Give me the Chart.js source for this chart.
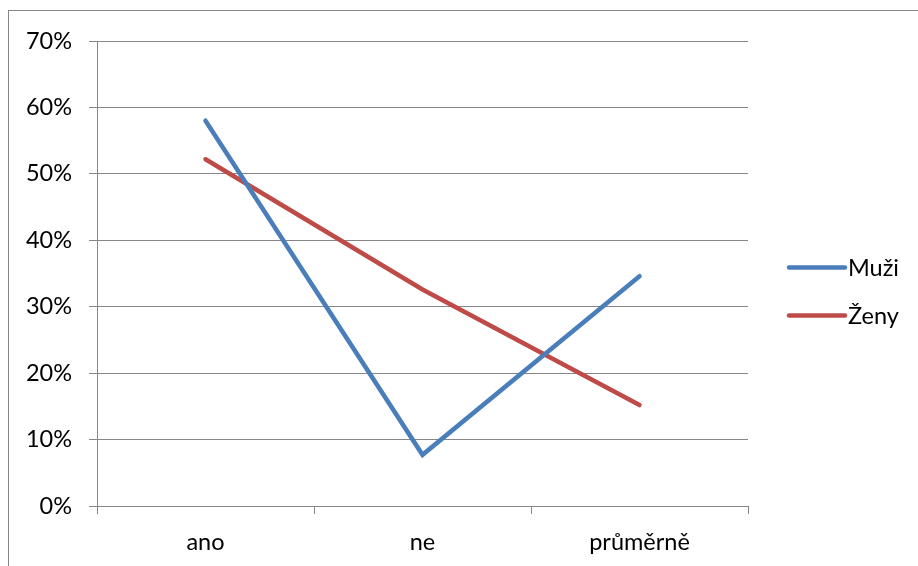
<!DOCTYPE html>
<html>
<head>
<meta charset="utf-8">
<script src="https://cdn.jsdelivr.net/npm/chart.js@4"></script>
<style>
  html, body { margin: 0; padding: 0; background: #fff; }
  #wrap { width: 918px; height: 566px; position: relative; }
</style>
</head>
<body>
<div id="wrap"><canvas id="c" width="918" height="566"></canvas></div>
<script>
// Survey answers by gender (share of respondents)
const categories = ['ano', 'ne', 'průměrně'];
const muzi = [0.580, 0.077, 0.346];
const zeny = [0.522, 0.326, 0.152];
const seriesNames = ['Muži', 'Ženy'];
const seriesColors = ['#4a7ebb', '#be4b48'];
const yTicks = [0, 0.1, 0.2, 0.3, 0.4, 0.5, 0.6, 0.7];

const FONT = 'Lato, "Open Sans", sans-serif';
const FONT_SIZE = 23.5;
const GRID = '#868686';

// Outer frame and the legend on the right
const framePlugin = {
  id: 'frameAndLegend',
  beforeDraw(chart) {
    const ctx = chart.ctx;
    ctx.save();
    ctx.strokeStyle = GRID;
    ctx.lineWidth = 1;
    ctx.strokeRect(8.5, 10.5, 1200, 1200);
    ctx.restore();
  },
  afterDraw(chart) {
    const ctx = chart.ctx;
    const area = chart.chartArea;
    ctx.save();
    const rows = chart.data.datasets.map(d => ({ label: d.label, color: d.borderColor }));
    const x0 = area.right + 41, x1 = area.right + 97;
    const yCenter = (area.top + area.bottom) / 2 + 18;
    const gap = 48;
    rows.forEach((r, i) => {
      const y = yCenter - gap / 2 + i * gap;
      ctx.strokeStyle = r.color;
      ctx.lineWidth = 4.5;
      ctx.lineCap = 'round';
      ctx.beginPath();
      ctx.moveTo(x0, y);
      ctx.lineTo(x1, y);
      ctx.stroke();
      ctx.fillStyle = '#000';
      ctx.font = FONT_SIZE + 'px ' + FONT;
      ctx.textBaseline = 'middle';
      ctx.textAlign = 'left';
      ctx.fillText(r.label, x1 + 3, y + 1);
    });
    ctx.restore();
  }
};

new Chart(document.getElementById('c'), {
  type: 'line',
  data: {
    labels: categories,
    datasets: [
      { label: seriesNames[0], data: muzi, borderColor: seriesColors[0], backgroundColor: seriesColors[0] },
      { label: seriesNames[1], data: zeny, borderColor: seriesColors[1], backgroundColor: seriesColors[1] }
    ]
  },
  options: {
    responsive: false,
    animation: false,
    devicePixelRatio: 1,
    layout: { padding: { left: 0, right: 170, top: 41, bottom: 0 } },
    elements: {
      line: { borderWidth: 4.5, tension: 0, borderCapStyle: 'round', borderJoinStyle: 'miter' },
      point: { radius: 0, hoverRadius: 0 }
    },
    plugins: { legend: { display: false }, tooltip: { enabled: false } },
    scales: {
      x: {
        offset: true,
        grid: { offset: true, drawOnChartArea: false, drawTicks: true, tickLength: 8, color: GRID, lineWidth: 1 },
        border: { display: true, color: GRID, width: 1 },
        ticks: { color: '#000', font: { family: FONT, size: FONT_SIZE }, padding: 14, maxRotation: 0 },
        afterFit(scale) { scale.height = 60; }
      },
      y: {
        min: 0,
        max: 0.7,
        afterBuildTicks(scale) { scale.ticks = yTicks.map(v => ({ value: v })); },
        grid: { color: GRID, lineWidth: 1, tickLength: 8, drawTicks: true },
        border: { display: true, color: GRID, width: 1 },
        ticks: {
          color: '#000',
          font: { family: FONT, size: FONT_SIZE },
          padding: 17,
          callback: v => Math.round(v * 100) + '%'
        },
        afterFit(scale) { scale.width = 97; }
      }
    }
  },
  plugins: [framePlugin]
});
</script>
</body>
</html>
